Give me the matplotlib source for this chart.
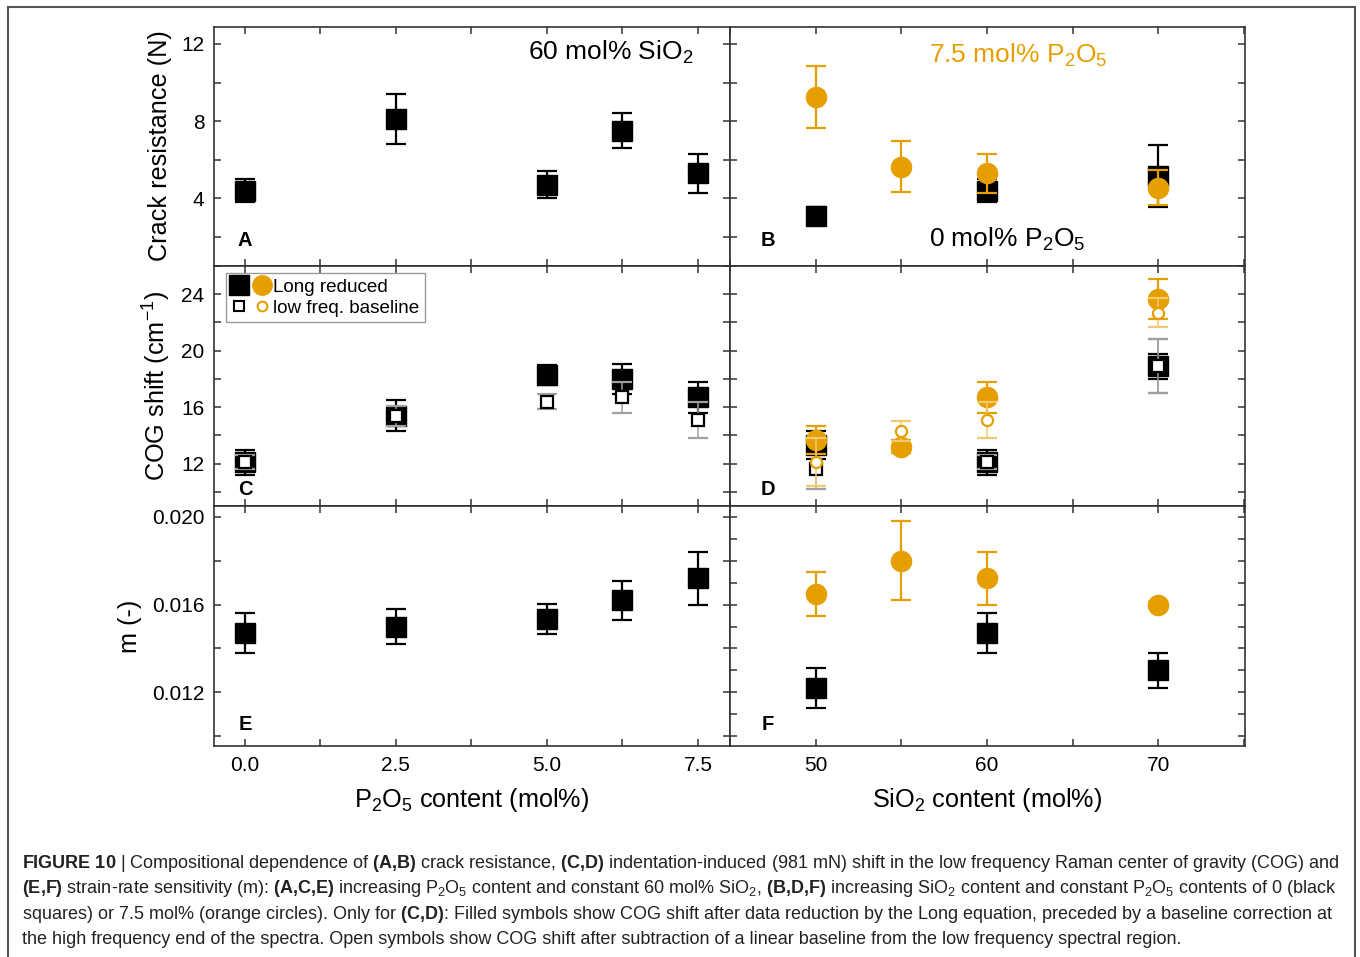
import matplotlib
matplotlib.use("Agg")
import matplotlib.pyplot as plt
from matplotlib.ticker import MultipleLocator, FormatStrFormatter
from matplotlib.patches import Rectangle
from matplotlib.legend_handler import HandlerTuple
from matplotlib.lines import Line2D

plt.rcParams['font.family'] = ['Liberation Sans', 'DejaVu Sans']
plt.rcParams['mathtext.fontset'] = 'custom'
plt.rcParams['mathtext.rm'] = 'Liberation Sans'
plt.rcParams['mathtext.it'] = 'Liberation Sans:italic'
plt.rcParams['mathtext.bf'] = 'Liberation Sans:bold'

# ---- data ----
p2o5 = [0.0, 2.5, 5.0, 6.25, 7.5]
sio2_black = [50, 60, 70]
sio2_orange = [50, 55, 60, 70]

# crack resistance (N)
crack_a = [4.4, 8.1, 4.7, 7.5, 5.3]
crack_a_err = [0.6, 1.3, 0.7, 0.9, 1.0]
crack_b_black = [3.1, 4.4, 5.15]
crack_b_black_err = [0.45, 0.6, 1.6]
crack_b_orange = [9.25, 5.65, 5.3, 4.55]
crack_b_orange_err = [1.6, 1.3, 1.0, 0.9]

# COG shift (cm^-1)
cog_c_long = [12.1, 15.4, 18.3, 18.0, 16.7]
cog_c_long_err = [0.9, 1.1, 0.7, 1.05, 1.1]
cog_c_low = [12.1, 15.4, 16.4, 16.7, 15.1]
cog_c_low_err = [0.5, 0.7, 0.5, 1.1, 1.3]
cog_d_black_long = [13.3, 12.1, 18.9]
cog_d_black_long_err = [1.0, 0.9, 0.9]
cog_d_black_low = [11.6, 12.1, 18.9]
cog_d_black_low_err = [1.4, 0.5, 1.9]
cog_d_orange_long = [13.7, 13.2, 16.7, 23.65]
cog_d_orange_long_err = [1.0, 0.45, 1.1, 1.4]
cog_d_orange_low = [12.1, 14.3, 15.1, 22.7]
cog_d_orange_low_err = [1.7, 0.7, 1.3, 1.0]

# strain-rate sensitivity m (-)
m_e = [0.0147, 0.0150, 0.01535, 0.0162, 0.0172]
m_e_err = [0.0009, 0.0008, 0.0007, 0.0009, 0.0012]
m_f_black = [0.0122, 0.0147, 0.0130]
m_f_black_err = [0.0009, 0.0009, 0.0008]
m_f_orange = [0.0165, 0.0180, 0.0172, 0.0160]
m_f_orange_err = [0.0010, 0.0018, 0.0012, 0.0001]

# ---- styles ----
ORANGE = '#E69F00'
LIGHT_ORANGE = '#F3C86E'
GREY = '#A0A0A0'
SPINE = '#333333'
MS_BIG = 14.5
MS_SMALL = 8.0
LABEL_FS = 18.2
NOTE_FS = 19

W, H = 1360, 957
fig = plt.figure(figsize=(W / 100, H / 100), dpi=100)


def px_axes(x0, y0, x1, y1):
    return fig.add_axes([x0 / W, 1 - y1 / H, (x1 - x0) / W, (y1 - y0) / H])


rows = [(27, 266), (266, 506), (506, 746)]
cols = [(214, 730), (730, 1245)]
axes = [[px_axes(c[0], r[0], c[1], r[1]) for c in cols] for r in rows]


def filled(ax, x, y, e, color, marker, z=3):
    ax.errorbar(x, y, yerr=e, fmt=marker, ms=MS_BIG, mfc=color, mec=color,
                ecolor=color, elinewidth=1.6, capsize=7, capthick=1.6,
                zorder=z)


def opened(ax, x, y, e, color, ecolor, marker, z=5):
    ax.errorbar(x, y, yerr=e, fmt=marker, ms=MS_SMALL, mfc='white', mec=color,
                mew=1.6, ecolor=ecolor, elinewidth=1.1, capsize=7,
                capthick=1.1, zorder=z)


# A
ax = axes[0][0]
filled(ax, p2o5, crack_a, crack_a_err, 'black', 's')
# B
ax = axes[0][1]
filled(ax, sio2_black, crack_b_black, crack_b_black_err, 'black', 's', z=3)
filled(ax, sio2_orange, crack_b_orange, crack_b_orange_err, ORANGE, 'o', z=4)
# C
ax = axes[1][0]
filled(ax, p2o5, cog_c_long, cog_c_long_err, 'black', 's', z=3)
opened(ax, p2o5, cog_c_low, cog_c_low_err, 'black', GREY, 's', z=4)
# D
ax = axes[1][1]
opened(ax, sio2_black, cog_d_black_low, cog_d_black_low_err, 'black', GREY, 's', z=2)
filled(ax, sio2_black, cog_d_black_long, cog_d_black_long_err, 'black', 's', z=3)
opened(ax, sio2_black[1:], cog_d_black_low[1:], cog_d_black_low_err[1:], 'black', GREY, 's', z=4)
filled(ax, sio2_orange, cog_d_orange_long, cog_d_orange_long_err, ORANGE, 'o', z=5)
opened(ax, sio2_orange, cog_d_orange_low, cog_d_orange_low_err, ORANGE, LIGHT_ORANGE, 'o', z=6)
# E
ax = axes[2][0]
filled(ax, p2o5, m_e, m_e_err, 'black', 's')
# F
ax = axes[2][1]
filled(ax, sio2_black, m_f_black, m_f_black_err, 'black', 's', z=3)
filled(ax, sio2_orange, m_f_orange, m_f_orange_err, ORANGE, 'o', z=4)

# ---- axes formatting ----
ylims = [(0.5, 12.88), (9.0, 26.0), (0.00955, 0.0205)]
ymajor = [4, 4, 0.004]
yminor_left = [2, 2, 0.002]
yminor_right = [2, 2, 0.001]

for r in range(3):
    for c in range(2):
        ax = axes[r][c]
        ax.set_ylim(*ylims[r])
        if c == 0:
            ax.set_xlim(-0.51, 8.03)
            ax.xaxis.set_major_locator(MultipleLocator(2.5))
            ax.xaxis.set_minor_locator(MultipleLocator(1.25))
            ax.xaxis.set_major_formatter(FormatStrFormatter('%.1f'))
            ax.yaxis.set_minor_locator(MultipleLocator(yminor_left[r]))
        else:
            ax.set_xlim(45.0, 75.05)
            ax.xaxis.set_major_locator(MultipleLocator(10))
            ax.xaxis.set_minor_locator(MultipleLocator(5))
            ax.yaxis.set_minor_locator(MultipleLocator(yminor_right[r]))
        ax.yaxis.set_major_locator(MultipleLocator(ymajor[r]))
        if r == 2:
            ax.yaxis.set_major_formatter(FormatStrFormatter('%.3f'))
        ax.tick_params(which='both', direction='in', top=True, right=True,
                       length=5, width=1.1, color=SPINE, labelsize=15,
                       pad=7)
        ax.tick_params(labelleft=(c == 0), labelbottom=(r == 2))
        for s in ax.spines.values():
            s.set_linewidth(1.2)
            s.set_color(SPINE)

# ---- labels ----
fig.text(160 / W, 1 - 146 / H, 'Crack resistance (N)', rotation=90,
         ha='center', va='center', fontsize=LABEL_FS)
fig.text(157 / W, 1 - 386 / H, 'COG shift (cm$^{-1}$)', rotation=90,
         ha='center', va='center', fontsize=LABEL_FS)
fig.text(130 / W, 1 - 626 / H, 'm (-)', rotation=90,
         ha='center', va='center', fontsize=LABEL_FS)
fig.text(472 / W, 1 - 800 / H, 'P$_2$O$_5$ content (mol%)',
         ha='center', va='center', fontsize=LABEL_FS)
fig.text(987 / W, 1 - 800 / H, 'SiO$_2$ content (mol%)',
         ha='center', va='center', fontsize=LABEL_FS)

axes[0][0].text(0.769, 0.895, '60 mol% SiO$_2$', transform=axes[0][0].transAxes,
                ha='center', va='center', fontsize=NOTE_FS)
axes[0][1].text(0.559, 0.883, '7.5 mol% P$_2$O$_5$', transform=axes[0][1].transAxes,
                ha='center', va='center', fontsize=NOTE_FS, color=ORANGE)
axes[0][1].text(0.538, 0.11, '0 mol% P$_2$O$_5$', transform=axes[0][1].transAxes,
                ha='center', va='center', fontsize=NOTE_FS)

letters = [('A', 0, 0, 0.060, 0.105), ('B', 0, 1, 0.074, 0.105),
           ('C', 1, 0, 0.060, 0.067), ('D', 1, 1, 0.074, 0.067),
           ('E', 2, 0, 0.060, 0.088), ('F', 2, 1, 0.074, 0.088)]
for t, r, c, x, y in letters:
    axes[r][c].text(x, y, t, transform=axes[r][c].transAxes, ha='center',
                    va='center', fontsize=14.5, fontweight='bold')

# ---- legend ----
h_sq = Line2D([], [], marker='s', ls='none', ms=MS_BIG - 0.5, mfc='black', mec='black')
h_ci = Line2D([], [], marker='o', ls='none', ms=MS_BIG - 0.5, mfc=ORANGE, mec=ORANGE)
h_osq = Line2D([], [], marker='s', ls='none', ms=MS_SMALL - 1, mfc='white', mec='black', mew=1.5)
h_oci = Line2D([], [], marker='o', ls='none', ms=MS_SMALL - 1, mfc='white', mec=ORANGE, mew=1.5)
leg = axes[1][0].legend([(h_sq, h_ci), (h_osq, h_oci)],
                        ['Long reduced', 'low freq. baseline'],
                        handler_map={tuple: HandlerTuple(ndivide=None, pad=0.35)},
                        loc='upper left', bbox_to_anchor=(0.023, 0.972),
                        borderaxespad=0, fontsize=13.6, handlelength=2.0,
                        handletextpad=0.2, borderpad=0.3, labelspacing=0.2,
                        fancybox=False, framealpha=1, edgecolor='#999999')
leg.get_frame().set_linewidth(1.0)

# ---- caption ----
cap_lines = [
    r"$\mathbf{FIGURE\ 10}$ | Compositional dependence of $\mathbf{(A{,}B)}$ crack resistance, "
    r"$\mathbf{(C{,}D)}$ indentation-induced (981 mN) shift in the low frequency Raman center of gravity (COG) and",
    r"$\mathbf{(E{,}F)}$ strain-rate sensitivity (m): $\mathbf{(A{,}C{,}E)}$ increasing P$_2$O$_5$ content and "
    r"constant 60 mol% SiO$_2$, $\mathbf{(B{,}D{,}F)}$ increasing SiO$_2$ content and constant P$_2$O$_5$ contents of 0 (black",
    r"squares) or 7.5 mol% (orange circles). Only for $\mathbf{(C{,}D)}$: Filled symbols show COG shift after data "
    r"reduction by the Long equation, preceded by a baseline correction at",
    r"the high frequency end of the spectra. Open symbols show COG shift after subtraction of a linear baseline "
    r"from the low frequency spectral region.",
]
for i, line in enumerate(cap_lines):
    fig.text(22 / W, 1 - (868 + 25.3 * i) / H, line, ha='left', va='baseline',
             fontsize=12.95, color='#222222')

# outer frame
fig.patches.append(Rectangle((7.5 / W, -0.02), (1355 - 7.5) / W, 1 - 6.5 / H + 0.02,
                             transform=fig.transFigure, fill=False,
                             edgecolor='#555555', linewidth=1.5))

fig.savefig('out.png', dpi=100)
